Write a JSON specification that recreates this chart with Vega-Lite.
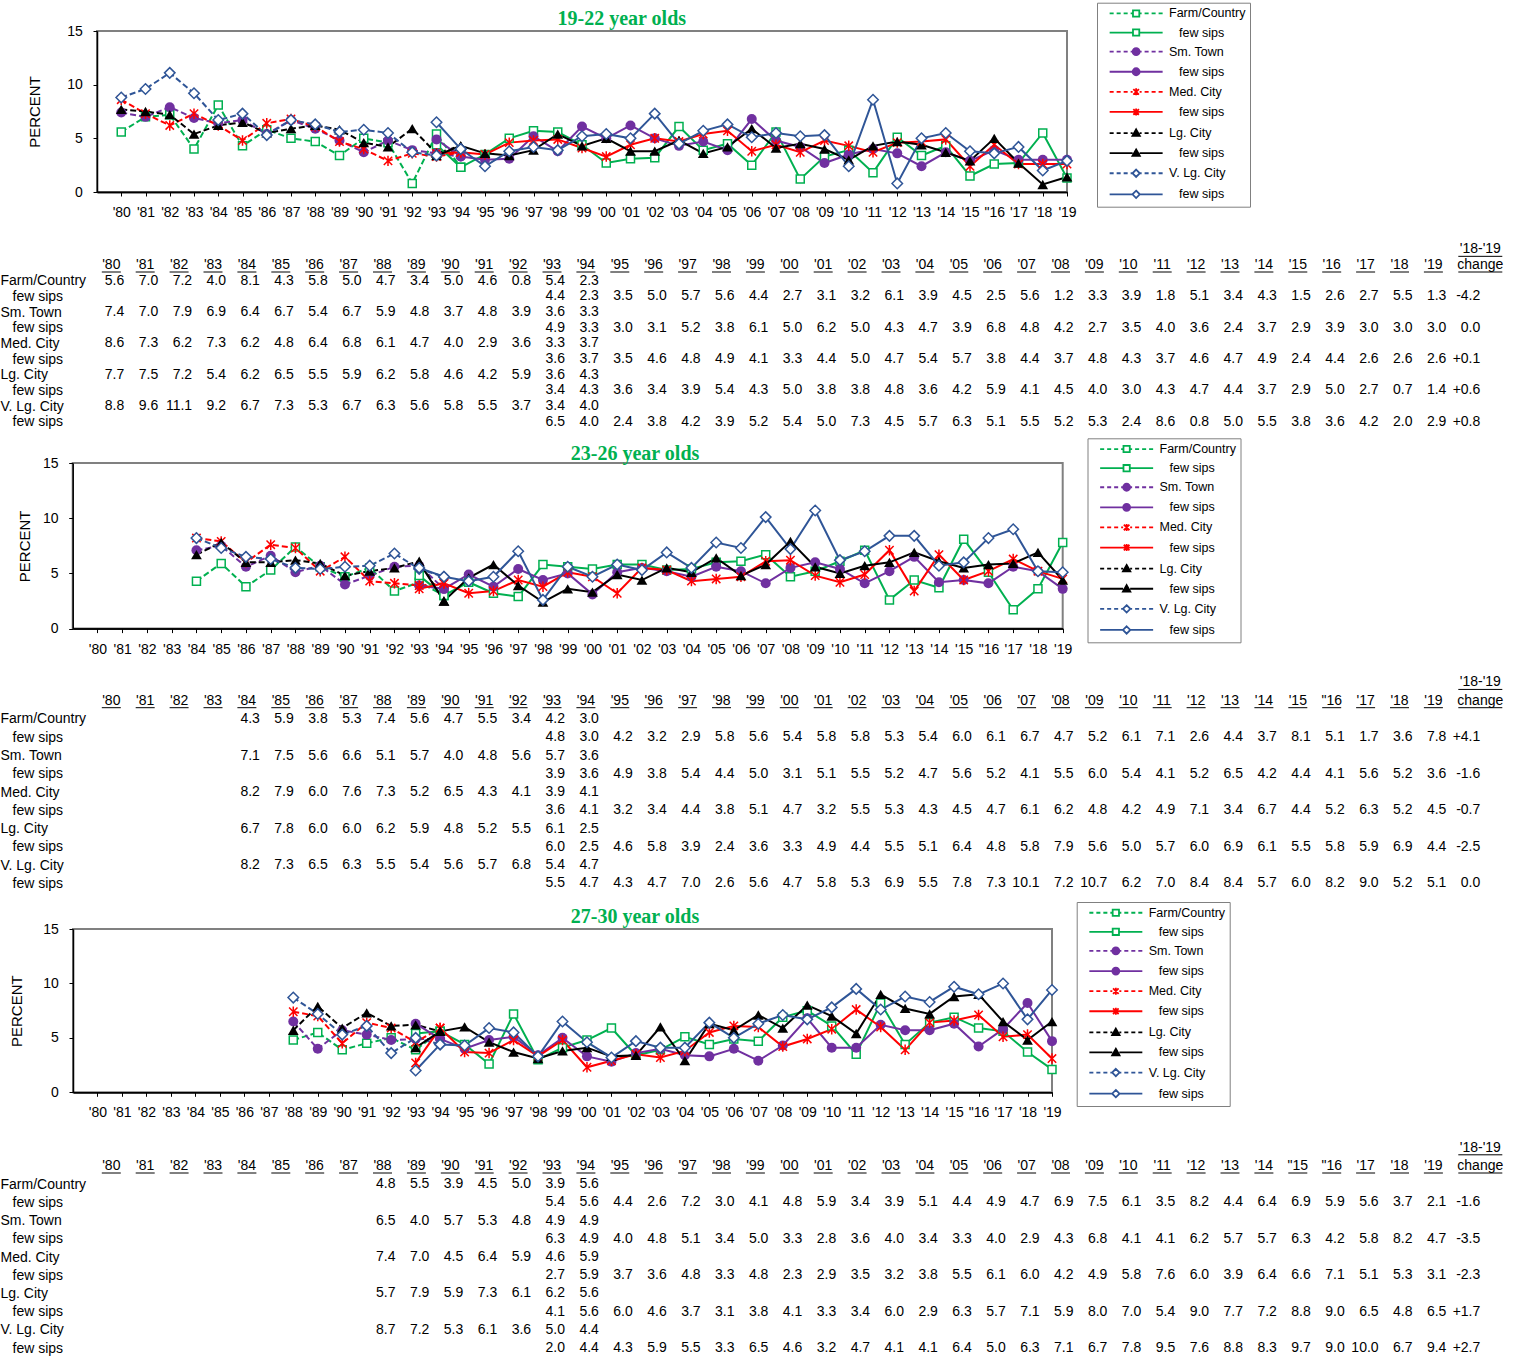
{
"$schema":"https://vega.github.io/schema/vega-lite/v6.json",
"padding":{"left":0,"top":2,"right":0,"bottom":0},
"background":"white",
"bounds":"flush",
"spacing":0,
"config":{"font":"Liberation Sans","view":{"stroke":null},
"axis":{"grid":false,"labelOverlap":false,"labelFont":"Liberation Sans","titleFont":"Liberation Sans","labelColor":"#000","titleColor":"#000","domainColor":"#000","tickColor":"#000"},
"text":{"font":"Liberation Sans","fontSize":14,"color":"#000"}},
"resolve":{"scale":{"color":"independent","stroke":"independent","fill":"independent","shape":"independent","x":"independent","y":"independent"},"legend":{"color":"independent","stroke":"independent","fill":"independent","shape":"independent"}},
"datasets":{
"ch":[{"r":"top","t":"'18-'19"},{"r":"hdr","t":"change"}],
"c1":[{"s":"F2","chg":"-4.2"},{"s":"S2","chg":"0.0"},{"s":"M2","chg":"+0.1"},{"s":"L2","chg":"+0.6"},{"s":"V2","chg":"+0.8"}],
"c2":[{"s":"F2","chg":"+4.1"},{"s":"S2","chg":"-1.6"},{"s":"M2","chg":"-0.7"},{"s":"L2","chg":"-2.5"},{"s":"V2","chg":"0.0"}],
"c3":[{"s":"F2","chg":"-1.6"},{"s":"S2","chg":"-3.5"},{"s":"M2","chg":"-2.3"},{"s":"L2","chg":"+1.7"},{"s":"V2","chg":"+2.7"}],
"h1":[{"yr":1980,"h":"'80"},{"yr":1981,"h":"'81"},{"yr":1982,"h":"'82"},{"yr":1983,"h":"'83"},{"yr":1984,"h":"'84"},{"yr":1985,"h":"'85"},{"yr":1986,"h":"'86"},{"yr":1987,"h":"'87"},{"yr":1988,"h":"'88"},{"yr":1989,"h":"'89"},{"yr":1990,"h":"'90"},{"yr":1991,"h":"'91"},{"yr":1992,"h":"'92"},{"yr":1993,"h":"'93"},{"yr":1994,"h":"'94"},{"yr":1995,"h":"'95"},{"yr":1996,"h":"'96"},{"yr":1997,"h":"'97"},{"yr":1998,"h":"'98"},{"yr":1999,"h":"'99"},{"yr":2000,"h":"'00"},{"yr":2001,"h":"'01"},{"yr":2002,"h":"'02"},{"yr":2003,"h":"'03"},{"yr":2004,"h":"'04"},{"yr":2005,"h":"'05"},{"yr":2006,"h":"'06"},{"yr":2007,"h":"'07"},{"yr":2008,"h":"'08"},{"yr":2009,"h":"'09"},{"yr":2010,"h":"'10"},{"yr":2011,"h":"'11"},{"yr":2012,"h":"'12"},{"yr":2013,"h":"'13"},{"yr":2014,"h":"'14"},{"yr":2015,"h":"'15"},{"yr":2016,"h":"'16"},{"yr":2017,"h":"'17"},{"yr":2018,"h":"'18"},{"yr":2019,"h":"'19"}],
"h2":[{"yr":1980,"h":"'80"},{"yr":1981,"h":"'81"},{"yr":1982,"h":"'82"},{"yr":1983,"h":"'83"},{"yr":1984,"h":"'84"},{"yr":1985,"h":"'85"},{"yr":1986,"h":"'86"},{"yr":1987,"h":"'87"},{"yr":1988,"h":"'88"},{"yr":1989,"h":"'89"},{"yr":1990,"h":"'90"},{"yr":1991,"h":"'91"},{"yr":1992,"h":"'92"},{"yr":1993,"h":"'93"},{"yr":1994,"h":"'94"},{"yr":1995,"h":"'95"},{"yr":1996,"h":"'96"},{"yr":1997,"h":"'97"},{"yr":1998,"h":"'98"},{"yr":1999,"h":"'99"},{"yr":2000,"h":"'00"},{"yr":2001,"h":"'01"},{"yr":2002,"h":"'02"},{"yr":2003,"h":"'03"},{"yr":2004,"h":"'04"},{"yr":2005,"h":"'05"},{"yr":2006,"h":"'06"},{"yr":2007,"h":"'07"},{"yr":2008,"h":"'08"},{"yr":2009,"h":"'09"},{"yr":2010,"h":"'10"},{"yr":2011,"h":"'11"},{"yr":2012,"h":"'12"},{"yr":2013,"h":"'13"},{"yr":2014,"h":"'14"},{"yr":2015,"h":"'15"},{"yr":2016,"h":"\"16"},{"yr":2017,"h":"'17"},{"yr":2018,"h":"'18"},{"yr":2019,"h":"'19"}],
"h3":[{"yr":1980,"h":"'80"},{"yr":1981,"h":"'81"},{"yr":1982,"h":"'82"},{"yr":1983,"h":"'83"},{"yr":1984,"h":"'84"},{"yr":1985,"h":"'85"},{"yr":1986,"h":"'86"},{"yr":1987,"h":"'87"},{"yr":1988,"h":"'88"},{"yr":1989,"h":"'89"},{"yr":1990,"h":"'90"},{"yr":1991,"h":"'91"},{"yr":1992,"h":"'92"},{"yr":1993,"h":"'93"},{"yr":1994,"h":"'94"},{"yr":1995,"h":"'95"},{"yr":1996,"h":"'96"},{"yr":1997,"h":"'97"},{"yr":1998,"h":"'98"},{"yr":1999,"h":"'99"},{"yr":2000,"h":"'00"},{"yr":2001,"h":"'01"},{"yr":2002,"h":"'02"},{"yr":2003,"h":"'03"},{"yr":2004,"h":"'04"},{"yr":2005,"h":"'05"},{"yr":2006,"h":"'06"},{"yr":2007,"h":"'07"},{"yr":2008,"h":"'08"},{"yr":2009,"h":"'09"},{"yr":2010,"h":"'10"},{"yr":2011,"h":"'11"},{"yr":2012,"h":"'12"},{"yr":2013,"h":"'13"},{"yr":2014,"h":"'14"},{"yr":2015,"h":"\"15"},{"yr":2016,"h":"\"16"},{"yr":2017,"h":"'17"},{"yr":2018,"h":"'18"},{"yr":2019,"h":"'19"}],
"d1":[
{"s":"F1","yr":1980,"v":5.6},{"s":"F1","yr":1981,"v":7.0},{"s":"F1","yr":1982,"v":7.2},{"s":"F1","yr":1983,"v":4.0},{"s":"F1","yr":1984,"v":8.1},{"s":"F1","yr":1985,"v":4.3},{"s":"F1","yr":1986,"v":5.8},{"s":"F1","yr":1987,"v":5.0},{"s":"F1","yr":1988,"v":4.7},{"s":"F1","yr":1989,"v":3.4},{"s":"F1","yr":1990,"v":5.0},{"s":"F1","yr":1991,"v":4.6},{"s":"F1","yr":1992,"v":0.8},{"s":"F1","yr":1993,"v":5.4},{"s":"F1","yr":1994,"v":2.3},
{"s":"F2","yr":1993,"v":4.4},{"s":"F2","yr":1994,"v":2.3},{"s":"F2","yr":1995,"v":3.5},{"s":"F2","yr":1996,"v":5.0},{"s":"F2","yr":1997,"v":5.7},{"s":"F2","yr":1998,"v":5.6},{"s":"F2","yr":1999,"v":4.4},{"s":"F2","yr":2000,"v":2.7},{"s":"F2","yr":2001,"v":3.1},{"s":"F2","yr":2002,"v":3.2},{"s":"F2","yr":2003,"v":6.1},{"s":"F2","yr":2004,"v":3.9},{"s":"F2","yr":2005,"v":4.5},{"s":"F2","yr":2006,"v":2.5},{"s":"F2","yr":2007,"v":5.6},{"s":"F2","yr":2008,"v":1.2},{"s":"F2","yr":2009,"v":3.3},{"s":"F2","yr":2010,"v":3.9},{"s":"F2","yr":2011,"v":1.8},{"s":"F2","yr":2012,"v":5.1},{"s":"F2","yr":2013,"v":3.4},{"s":"F2","yr":2014,"v":4.3},{"s":"F2","yr":2015,"v":1.5},{"s":"F2","yr":2016,"v":2.6},{"s":"F2","yr":2017,"v":2.7},{"s":"F2","yr":2018,"v":5.5},{"s":"F2","yr":2019,"v":1.3},
{"s":"S1","yr":1980,"v":7.4},{"s":"S1","yr":1981,"v":7.0},{"s":"S1","yr":1982,"v":7.9},{"s":"S1","yr":1983,"v":6.9},{"s":"S1","yr":1984,"v":6.4},{"s":"S1","yr":1985,"v":6.7},{"s":"S1","yr":1986,"v":5.4},{"s":"S1","yr":1987,"v":6.7},{"s":"S1","yr":1988,"v":5.9},{"s":"S1","yr":1989,"v":4.8},{"s":"S1","yr":1990,"v":3.7},{"s":"S1","yr":1991,"v":4.8},{"s":"S1","yr":1992,"v":3.9},{"s":"S1","yr":1993,"v":3.6},{"s":"S1","yr":1994,"v":3.3},
{"s":"S2","yr":1993,"v":4.9},{"s":"S2","yr":1994,"v":3.3},{"s":"S2","yr":1995,"v":3.0},{"s":"S2","yr":1996,"v":3.1},{"s":"S2","yr":1997,"v":5.2},{"s":"S2","yr":1998,"v":3.8},{"s":"S2","yr":1999,"v":6.1},{"s":"S2","yr":2000,"v":5.0},{"s":"S2","yr":2001,"v":6.2},{"s":"S2","yr":2002,"v":5.0},{"s":"S2","yr":2003,"v":4.3},{"s":"S2","yr":2004,"v":4.7},{"s":"S2","yr":2005,"v":3.9},{"s":"S2","yr":2006,"v":6.8},{"s":"S2","yr":2007,"v":4.8},{"s":"S2","yr":2008,"v":4.2},{"s":"S2","yr":2009,"v":2.7},{"s":"S2","yr":2010,"v":3.5},{"s":"S2","yr":2011,"v":4.0},{"s":"S2","yr":2012,"v":3.6},{"s":"S2","yr":2013,"v":2.4},{"s":"S2","yr":2014,"v":3.7},{"s":"S2","yr":2015,"v":2.9},{"s":"S2","yr":2016,"v":3.9},{"s":"S2","yr":2017,"v":3.0},{"s":"S2","yr":2018,"v":3.0},{"s":"S2","yr":2019,"v":3.0},
{"s":"M1","yr":1980,"v":8.6},{"s":"M1","yr":1981,"v":7.3},{"s":"M1","yr":1982,"v":6.2},{"s":"M1","yr":1983,"v":7.3},{"s":"M1","yr":1984,"v":6.2},{"s":"M1","yr":1985,"v":4.8},{"s":"M1","yr":1986,"v":6.4},{"s":"M1","yr":1987,"v":6.8},{"s":"M1","yr":1988,"v":6.1},{"s":"M1","yr":1989,"v":4.7},{"s":"M1","yr":1990,"v":4.0},{"s":"M1","yr":1991,"v":2.9},{"s":"M1","yr":1992,"v":3.6},{"s":"M1","yr":1993,"v":3.3},{"s":"M1","yr":1994,"v":3.7},
{"s":"M2","yr":1993,"v":3.6},{"s":"M2","yr":1994,"v":3.7},{"s":"M2","yr":1995,"v":3.5},{"s":"M2","yr":1996,"v":4.6},{"s":"M2","yr":1997,"v":4.8},{"s":"M2","yr":1998,"v":4.9},{"s":"M2","yr":1999,"v":4.1},{"s":"M2","yr":2000,"v":3.3},{"s":"M2","yr":2001,"v":4.4},{"s":"M2","yr":2002,"v":5.0},{"s":"M2","yr":2003,"v":4.7},{"s":"M2","yr":2004,"v":5.4},{"s":"M2","yr":2005,"v":5.7},{"s":"M2","yr":2006,"v":3.8},{"s":"M2","yr":2007,"v":4.4},{"s":"M2","yr":2008,"v":3.7},{"s":"M2","yr":2009,"v":4.8},{"s":"M2","yr":2010,"v":4.3},{"s":"M2","yr":2011,"v":3.7},{"s":"M2","yr":2012,"v":4.6},{"s":"M2","yr":2013,"v":4.7},{"s":"M2","yr":2014,"v":4.9},{"s":"M2","yr":2015,"v":2.4},{"s":"M2","yr":2016,"v":4.4},{"s":"M2","yr":2017,"v":2.6},{"s":"M2","yr":2018,"v":2.6},{"s":"M2","yr":2019,"v":2.6},
{"s":"L1","yr":1980,"v":7.7},{"s":"L1","yr":1981,"v":7.5},{"s":"L1","yr":1982,"v":7.2},{"s":"L1","yr":1983,"v":5.4},{"s":"L1","yr":1984,"v":6.2},{"s":"L1","yr":1985,"v":6.5},{"s":"L1","yr":1986,"v":5.5},{"s":"L1","yr":1987,"v":5.9},{"s":"L1","yr":1988,"v":6.2},{"s":"L1","yr":1989,"v":5.8},{"s":"L1","yr":1990,"v":4.6},{"s":"L1","yr":1991,"v":4.2},{"s":"L1","yr":1992,"v":5.9},{"s":"L1","yr":1993,"v":3.6},{"s":"L1","yr":1994,"v":4.3},
{"s":"L2","yr":1993,"v":3.4},{"s":"L2","yr":1994,"v":4.3},{"s":"L2","yr":1995,"v":3.6},{"s":"L2","yr":1996,"v":3.4},{"s":"L2","yr":1997,"v":3.9},{"s":"L2","yr":1998,"v":5.4},{"s":"L2","yr":1999,"v":4.3},{"s":"L2","yr":2000,"v":5.0},{"s":"L2","yr":2001,"v":3.8},{"s":"L2","yr":2002,"v":3.8},{"s":"L2","yr":2003,"v":4.8},{"s":"L2","yr":2004,"v":3.6},{"s":"L2","yr":2005,"v":4.2},{"s":"L2","yr":2006,"v":5.9},{"s":"L2","yr":2007,"v":4.1},{"s":"L2","yr":2008,"v":4.5},{"s":"L2","yr":2009,"v":4.0},{"s":"L2","yr":2010,"v":3.0},{"s":"L2","yr":2011,"v":4.3},{"s":"L2","yr":2012,"v":4.7},{"s":"L2","yr":2013,"v":4.4},{"s":"L2","yr":2014,"v":3.7},{"s":"L2","yr":2015,"v":2.9},{"s":"L2","yr":2016,"v":5.0},{"s":"L2","yr":2017,"v":2.7},{"s":"L2","yr":2018,"v":0.7},{"s":"L2","yr":2019,"v":1.4},
{"s":"V1","yr":1980,"v":8.8},{"s":"V1","yr":1981,"v":9.6},{"s":"V1","yr":1982,"v":11.1},{"s":"V1","yr":1983,"v":9.2},{"s":"V1","yr":1984,"v":6.7},{"s":"V1","yr":1985,"v":7.3},{"s":"V1","yr":1986,"v":5.3},{"s":"V1","yr":1987,"v":6.7},{"s":"V1","yr":1988,"v":6.3},{"s":"V1","yr":1989,"v":5.6},{"s":"V1","yr":1990,"v":5.8},{"s":"V1","yr":1991,"v":5.5},{"s":"V1","yr":1992,"v":3.7},{"s":"V1","yr":1993,"v":3.4},{"s":"V1","yr":1994,"v":4.0},
{"s":"V2","yr":1993,"v":6.5},{"s":"V2","yr":1994,"v":4.0},{"s":"V2","yr":1995,"v":2.4},{"s":"V2","yr":1996,"v":3.8},{"s":"V2","yr":1997,"v":4.2},{"s":"V2","yr":1998,"v":3.9},{"s":"V2","yr":1999,"v":5.2},{"s":"V2","yr":2000,"v":5.4},{"s":"V2","yr":2001,"v":5.0},{"s":"V2","yr":2002,"v":7.3},{"s":"V2","yr":2003,"v":4.5},{"s":"V2","yr":2004,"v":5.7},{"s":"V2","yr":2005,"v":6.3},{"s":"V2","yr":2006,"v":5.1},{"s":"V2","yr":2007,"v":5.5},{"s":"V2","yr":2008,"v":5.2},{"s":"V2","yr":2009,"v":5.3},{"s":"V2","yr":2010,"v":2.4},{"s":"V2","yr":2011,"v":8.6},{"s":"V2","yr":2012,"v":0.8},{"s":"V2","yr":2013,"v":5.0},{"s":"V2","yr":2014,"v":5.5},{"s":"V2","yr":2015,"v":3.8},{"s":"V2","yr":2016,"v":3.6},{"s":"V2","yr":2017,"v":4.2},{"s":"V2","yr":2018,"v":2.0},{"s":"V2","yr":2019,"v":2.9}],
"d2":[
{"s":"F1","yr":1984,"v":4.3},{"s":"F1","yr":1985,"v":5.9},{"s":"F1","yr":1986,"v":3.8},{"s":"F1","yr":1987,"v":5.3},{"s":"F1","yr":1988,"v":7.4},{"s":"F1","yr":1989,"v":5.6},{"s":"F1","yr":1990,"v":4.7},{"s":"F1","yr":1991,"v":5.5},{"s":"F1","yr":1992,"v":3.4},{"s":"F1","yr":1993,"v":4.2},{"s":"F1","yr":1994,"v":3.0},
{"s":"F2","yr":1993,"v":4.8},{"s":"F2","yr":1994,"v":3.0},{"s":"F2","yr":1995,"v":4.2},{"s":"F2","yr":1996,"v":3.2},{"s":"F2","yr":1997,"v":2.9},{"s":"F2","yr":1998,"v":5.8},{"s":"F2","yr":1999,"v":5.6},{"s":"F2","yr":2000,"v":5.4},{"s":"F2","yr":2001,"v":5.8},{"s":"F2","yr":2002,"v":5.8},{"s":"F2","yr":2003,"v":5.3},{"s":"F2","yr":2004,"v":5.4},{"s":"F2","yr":2005,"v":6.0},{"s":"F2","yr":2006,"v":6.1},{"s":"F2","yr":2007,"v":6.7},{"s":"F2","yr":2008,"v":4.7},{"s":"F2","yr":2009,"v":5.2},{"s":"F2","yr":2010,"v":6.1},{"s":"F2","yr":2011,"v":7.1},{"s":"F2","yr":2012,"v":2.6},{"s":"F2","yr":2013,"v":4.4},{"s":"F2","yr":2014,"v":3.7},{"s":"F2","yr":2015,"v":8.1},{"s":"F2","yr":2016,"v":5.1},{"s":"F2","yr":2017,"v":1.7},{"s":"F2","yr":2018,"v":3.6},{"s":"F2","yr":2019,"v":7.8},
{"s":"S1","yr":1984,"v":7.1},{"s":"S1","yr":1985,"v":7.5},{"s":"S1","yr":1986,"v":5.6},{"s":"S1","yr":1987,"v":6.6},{"s":"S1","yr":1988,"v":5.1},{"s":"S1","yr":1989,"v":5.7},{"s":"S1","yr":1990,"v":4.0},{"s":"S1","yr":1991,"v":4.8},{"s":"S1","yr":1992,"v":5.6},{"s":"S1","yr":1993,"v":5.7},{"s":"S1","yr":1994,"v":3.6},
{"s":"S2","yr":1993,"v":3.9},{"s":"S2","yr":1994,"v":3.6},{"s":"S2","yr":1995,"v":4.9},{"s":"S2","yr":1996,"v":3.8},{"s":"S2","yr":1997,"v":5.4},{"s":"S2","yr":1998,"v":4.4},{"s":"S2","yr":1999,"v":5.0},{"s":"S2","yr":2000,"v":3.1},{"s":"S2","yr":2001,"v":5.1},{"s":"S2","yr":2002,"v":5.5},{"s":"S2","yr":2003,"v":5.2},{"s":"S2","yr":2004,"v":4.7},{"s":"S2","yr":2005,"v":5.6},{"s":"S2","yr":2006,"v":5.2},{"s":"S2","yr":2007,"v":4.1},{"s":"S2","yr":2008,"v":5.5},{"s":"S2","yr":2009,"v":6.0},{"s":"S2","yr":2010,"v":5.4},{"s":"S2","yr":2011,"v":4.1},{"s":"S2","yr":2012,"v":5.2},{"s":"S2","yr":2013,"v":6.5},{"s":"S2","yr":2014,"v":4.2},{"s":"S2","yr":2015,"v":4.4},{"s":"S2","yr":2016,"v":4.1},{"s":"S2","yr":2017,"v":5.6},{"s":"S2","yr":2018,"v":5.2},{"s":"S2","yr":2019,"v":3.6},
{"s":"M1","yr":1984,"v":8.2},{"s":"M1","yr":1985,"v":7.9},{"s":"M1","yr":1986,"v":6.0},{"s":"M1","yr":1987,"v":7.6},{"s":"M1","yr":1988,"v":7.3},{"s":"M1","yr":1989,"v":5.2},{"s":"M1","yr":1990,"v":6.5},{"s":"M1","yr":1991,"v":4.3},{"s":"M1","yr":1992,"v":4.1},{"s":"M1","yr":1993,"v":3.9},{"s":"M1","yr":1994,"v":4.1},
{"s":"M2","yr":1993,"v":3.6},{"s":"M2","yr":1994,"v":4.1},{"s":"M2","yr":1995,"v":3.2},{"s":"M2","yr":1996,"v":3.4},{"s":"M2","yr":1997,"v":4.4},{"s":"M2","yr":1998,"v":3.8},{"s":"M2","yr":1999,"v":5.1},{"s":"M2","yr":2000,"v":4.7},{"s":"M2","yr":2001,"v":3.2},{"s":"M2","yr":2002,"v":5.5},{"s":"M2","yr":2003,"v":5.3},{"s":"M2","yr":2004,"v":4.3},{"s":"M2","yr":2005,"v":4.5},{"s":"M2","yr":2006,"v":4.7},{"s":"M2","yr":2007,"v":6.1},{"s":"M2","yr":2008,"v":6.2},{"s":"M2","yr":2009,"v":4.8},{"s":"M2","yr":2010,"v":4.2},{"s":"M2","yr":2011,"v":4.9},{"s":"M2","yr":2012,"v":7.1},{"s":"M2","yr":2013,"v":3.4},{"s":"M2","yr":2014,"v":6.7},{"s":"M2","yr":2015,"v":4.4},{"s":"M2","yr":2016,"v":5.2},{"s":"M2","yr":2017,"v":6.3},{"s":"M2","yr":2018,"v":5.2},{"s":"M2","yr":2019,"v":4.5},
{"s":"L1","yr":1984,"v":6.7},{"s":"L1","yr":1985,"v":7.8},{"s":"L1","yr":1986,"v":6.0},{"s":"L1","yr":1987,"v":6.0},{"s":"L1","yr":1988,"v":6.2},{"s":"L1","yr":1989,"v":5.9},{"s":"L1","yr":1990,"v":4.8},{"s":"L1","yr":1991,"v":5.2},{"s":"L1","yr":1992,"v":5.5},{"s":"L1","yr":1993,"v":6.1},{"s":"L1","yr":1994,"v":2.5},
{"s":"L2","yr":1993,"v":6.0},{"s":"L2","yr":1994,"v":2.5},{"s":"L2","yr":1995,"v":4.6},{"s":"L2","yr":1996,"v":5.8},{"s":"L2","yr":1997,"v":3.9},{"s":"L2","yr":1998,"v":2.4},{"s":"L2","yr":1999,"v":3.6},{"s":"L2","yr":2000,"v":3.3},{"s":"L2","yr":2001,"v":4.9},{"s":"L2","yr":2002,"v":4.4},{"s":"L2","yr":2003,"v":5.5},{"s":"L2","yr":2004,"v":5.1},{"s":"L2","yr":2005,"v":6.4},{"s":"L2","yr":2006,"v":4.8},{"s":"L2","yr":2007,"v":5.8},{"s":"L2","yr":2008,"v":7.9},{"s":"L2","yr":2009,"v":5.6},{"s":"L2","yr":2010,"v":5.0},{"s":"L2","yr":2011,"v":5.7},{"s":"L2","yr":2012,"v":6.0},{"s":"L2","yr":2013,"v":6.9},{"s":"L2","yr":2014,"v":6.1},{"s":"L2","yr":2015,"v":5.5},{"s":"L2","yr":2016,"v":5.8},{"s":"L2","yr":2017,"v":5.9},{"s":"L2","yr":2018,"v":6.9},{"s":"L2","yr":2019,"v":4.4},
{"s":"V1","yr":1984,"v":8.2},{"s":"V1","yr":1985,"v":7.3},{"s":"V1","yr":1986,"v":6.5},{"s":"V1","yr":1987,"v":6.3},{"s":"V1","yr":1988,"v":5.5},{"s":"V1","yr":1989,"v":5.4},{"s":"V1","yr":1990,"v":5.6},{"s":"V1","yr":1991,"v":5.7},{"s":"V1","yr":1992,"v":6.8},{"s":"V1","yr":1993,"v":5.4},{"s":"V1","yr":1994,"v":4.7},
{"s":"V2","yr":1993,"v":5.5},{"s":"V2","yr":1994,"v":4.7},{"s":"V2","yr":1995,"v":4.3},{"s":"V2","yr":1996,"v":4.7},{"s":"V2","yr":1997,"v":7.0},{"s":"V2","yr":1998,"v":2.6},{"s":"V2","yr":1999,"v":5.6},{"s":"V2","yr":2000,"v":4.7},{"s":"V2","yr":2001,"v":5.8},{"s":"V2","yr":2002,"v":5.3},{"s":"V2","yr":2003,"v":6.9},{"s":"V2","yr":2004,"v":5.5},{"s":"V2","yr":2005,"v":7.8},{"s":"V2","yr":2006,"v":7.3},{"s":"V2","yr":2007,"v":10.1},{"s":"V2","yr":2008,"v":7.2},{"s":"V2","yr":2009,"v":10.7},{"s":"V2","yr":2010,"v":6.2},{"s":"V2","yr":2011,"v":7.0},{"s":"V2","yr":2012,"v":8.4},{"s":"V2","yr":2013,"v":8.4},{"s":"V2","yr":2014,"v":5.7},{"s":"V2","yr":2015,"v":6.0},{"s":"V2","yr":2016,"v":8.2},{"s":"V2","yr":2017,"v":9.0},{"s":"V2","yr":2018,"v":5.2},{"s":"V2","yr":2019,"v":5.1}],
"d3":[
{"s":"F1","yr":1988,"v":4.8},{"s":"F1","yr":1989,"v":5.5},{"s":"F1","yr":1990,"v":3.9},{"s":"F1","yr":1991,"v":4.5},{"s":"F1","yr":1992,"v":5.0},{"s":"F1","yr":1993,"v":3.9},{"s":"F1","yr":1994,"v":5.6},
{"s":"F2","yr":1993,"v":5.4},{"s":"F2","yr":1994,"v":5.6},{"s":"F2","yr":1995,"v":4.4},{"s":"F2","yr":1996,"v":2.6},{"s":"F2","yr":1997,"v":7.2},{"s":"F2","yr":1998,"v":3.0},{"s":"F2","yr":1999,"v":4.1},{"s":"F2","yr":2000,"v":4.8},{"s":"F2","yr":2001,"v":5.9},{"s":"F2","yr":2002,"v":3.4},{"s":"F2","yr":2003,"v":3.9},{"s":"F2","yr":2004,"v":5.1},{"s":"F2","yr":2005,"v":4.4},{"s":"F2","yr":2006,"v":4.9},{"s":"F2","yr":2007,"v":4.7},{"s":"F2","yr":2008,"v":6.9},{"s":"F2","yr":2009,"v":7.5},{"s":"F2","yr":2010,"v":6.1},{"s":"F2","yr":2011,"v":3.5},{"s":"F2","yr":2012,"v":8.2},{"s":"F2","yr":2013,"v":4.4},{"s":"F2","yr":2014,"v":6.4},{"s":"F2","yr":2015,"v":6.9},{"s":"F2","yr":2016,"v":5.9},{"s":"F2","yr":2017,"v":5.6},{"s":"F2","yr":2018,"v":3.7},{"s":"F2","yr":2019,"v":2.1},
{"s":"S1","yr":1988,"v":6.5},{"s":"S1","yr":1989,"v":4.0},{"s":"S1","yr":1990,"v":5.7},{"s":"S1","yr":1991,"v":5.3},{"s":"S1","yr":1992,"v":4.8},{"s":"S1","yr":1993,"v":4.9},{"s":"S1","yr":1994,"v":4.9},
{"s":"S2","yr":1993,"v":6.3},{"s":"S2","yr":1994,"v":4.9},{"s":"S2","yr":1995,"v":4.0},{"s":"S2","yr":1996,"v":4.8},{"s":"S2","yr":1997,"v":5.1},{"s":"S2","yr":1998,"v":3.4},{"s":"S2","yr":1999,"v":5.0},{"s":"S2","yr":2000,"v":3.3},{"s":"S2","yr":2001,"v":2.8},{"s":"S2","yr":2002,"v":3.6},{"s":"S2","yr":2003,"v":4.0},{"s":"S2","yr":2004,"v":3.4},{"s":"S2","yr":2005,"v":3.3},{"s":"S2","yr":2006,"v":4.0},{"s":"S2","yr":2007,"v":2.9},{"s":"S2","yr":2008,"v":4.3},{"s":"S2","yr":2009,"v":6.8},{"s":"S2","yr":2010,"v":4.1},{"s":"S2","yr":2011,"v":4.1},{"s":"S2","yr":2012,"v":6.2},{"s":"S2","yr":2013,"v":5.7},{"s":"S2","yr":2014,"v":5.7},{"s":"S2","yr":2015,"v":6.3},{"s":"S2","yr":2016,"v":4.2},{"s":"S2","yr":2017,"v":5.8},{"s":"S2","yr":2018,"v":8.2},{"s":"S2","yr":2019,"v":4.7},
{"s":"M1","yr":1988,"v":7.4},{"s":"M1","yr":1989,"v":7.0},{"s":"M1","yr":1990,"v":4.5},{"s":"M1","yr":1991,"v":6.4},{"s":"M1","yr":1992,"v":5.9},{"s":"M1","yr":1993,"v":4.6},{"s":"M1","yr":1994,"v":5.9},
{"s":"M2","yr":1993,"v":2.7},{"s":"M2","yr":1994,"v":5.9},{"s":"M2","yr":1995,"v":3.7},{"s":"M2","yr":1996,"v":3.6},{"s":"M2","yr":1997,"v":4.8},{"s":"M2","yr":1998,"v":3.3},{"s":"M2","yr":1999,"v":4.8},{"s":"M2","yr":2000,"v":2.3},{"s":"M2","yr":2001,"v":2.9},{"s":"M2","yr":2002,"v":3.5},{"s":"M2","yr":2003,"v":3.2},{"s":"M2","yr":2004,"v":3.8},{"s":"M2","yr":2005,"v":5.5},{"s":"M2","yr":2006,"v":6.1},{"s":"M2","yr":2007,"v":6.0},{"s":"M2","yr":2008,"v":4.2},{"s":"M2","yr":2009,"v":4.9},{"s":"M2","yr":2010,"v":5.8},{"s":"M2","yr":2011,"v":7.6},{"s":"M2","yr":2012,"v":6.0},{"s":"M2","yr":2013,"v":3.9},{"s":"M2","yr":2014,"v":6.4},{"s":"M2","yr":2015,"v":6.6},{"s":"M2","yr":2016,"v":7.1},{"s":"M2","yr":2017,"v":5.1},{"s":"M2","yr":2018,"v":5.3},{"s":"M2","yr":2019,"v":3.1},
{"s":"L1","yr":1988,"v":5.7},{"s":"L1","yr":1989,"v":7.9},{"s":"L1","yr":1990,"v":5.9},{"s":"L1","yr":1991,"v":7.3},{"s":"L1","yr":1992,"v":6.1},{"s":"L1","yr":1993,"v":6.2},{"s":"L1","yr":1994,"v":5.6},
{"s":"L2","yr":1993,"v":4.1},{"s":"L2","yr":1994,"v":5.6},{"s":"L2","yr":1995,"v":6.0},{"s":"L2","yr":1996,"v":4.6},{"s":"L2","yr":1997,"v":3.7},{"s":"L2","yr":1998,"v":3.1},{"s":"L2","yr":1999,"v":3.8},{"s":"L2","yr":2000,"v":4.1},{"s":"L2","yr":2001,"v":3.3},{"s":"L2","yr":2002,"v":3.4},{"s":"L2","yr":2003,"v":6.0},{"s":"L2","yr":2004,"v":2.9},{"s":"L2","yr":2005,"v":6.3},{"s":"L2","yr":2006,"v":5.7},{"s":"L2","yr":2007,"v":7.1},{"s":"L2","yr":2008,"v":5.9},{"s":"L2","yr":2009,"v":8.0},{"s":"L2","yr":2010,"v":7.0},{"s":"L2","yr":2011,"v":5.4},{"s":"L2","yr":2012,"v":9.0},{"s":"L2","yr":2013,"v":7.7},{"s":"L2","yr":2014,"v":7.2},{"s":"L2","yr":2015,"v":8.8},{"s":"L2","yr":2016,"v":9.0},{"s":"L2","yr":2017,"v":6.5},{"s":"L2","yr":2018,"v":4.8},{"s":"L2","yr":2019,"v":6.5},
{"s":"V1","yr":1988,"v":8.7},{"s":"V1","yr":1989,"v":7.2},{"s":"V1","yr":1990,"v":5.3},{"s":"V1","yr":1991,"v":6.1},{"s":"V1","yr":1992,"v":3.6},{"s":"V1","yr":1993,"v":5.0},{"s":"V1","yr":1994,"v":4.4},
{"s":"V2","yr":1993,"v":2.0},{"s":"V2","yr":1994,"v":4.4},{"s":"V2","yr":1995,"v":4.3},{"s":"V2","yr":1996,"v":5.9},{"s":"V2","yr":1997,"v":5.5},{"s":"V2","yr":1998,"v":3.3},{"s":"V2","yr":1999,"v":6.5},{"s":"V2","yr":2000,"v":4.6},{"s":"V2","yr":2001,"v":3.2},{"s":"V2","yr":2002,"v":4.7},{"s":"V2","yr":2003,"v":4.1},{"s":"V2","yr":2004,"v":4.1},{"s":"V2","yr":2005,"v":6.4},{"s":"V2","yr":2006,"v":5.0},{"s":"V2","yr":2007,"v":6.3},{"s":"V2","yr":2008,"v":7.1},{"s":"V2","yr":2009,"v":6.7},{"s":"V2","yr":2010,"v":7.8},{"s":"V2","yr":2011,"v":9.5},{"s":"V2","yr":2012,"v":7.6},{"s":"V2","yr":2013,"v":8.8},{"s":"V2","yr":2014,"v":8.3},{"s":"V2","yr":2015,"v":9.7},{"s":"V2","yr":2016,"v":9.0},{"s":"V2","yr":2017,"v":10.0},{"s":"V2","yr":2018,"v":6.7},{"s":"V2","yr":2019,"v":9.4}]
},
"vconcat":[
{"width":1067,"height":161,
"title":{"text":"19-22 year olds","font":"Liberation Serif","fontSize":20,"fontWeight":"bold","color":"#00B050","frame":"group","anchor":"middle","baseline":"alphabetic","offset":0,"dx":88.3,"dy":42.8},
"resolve":{"axis":{"x":"independent"}},
"layer":[
{"data":{"values":[{}]},"mark":{"type":"rect","filled":false,"color":"#808080","strokeWidth":2},
"encoding":{"x":{"datum":1979,"type":"quantitative","scale":{"domain":[1979,2019],"range":[97,1067],"nice":false,"zero":false},
"axis":{"orient":"bottom","values":[1980,1982,1984,1986,1988,1990,1992,1994,1996,1998,2000,2002,2004,2006,2008,2010,2012,2014,2016,2018],"labelExpr":"datum.value == 2016 ? '\"16' : \"'\" + format(datum.value % 100, '02d')","title":null,"labelFontSize":14,"labelPadding":9.5,"tickSize":4,"domainWidth":1.5,"labelOverlap":false,"labelBound":false,"labelFlush":false,"zindex":1}},
"x2":{"datum":2019},
"y":{"datum":0,"type":"quantitative","scale":{"domain":[0,15],"nice":false},
"axis":{"orient":"left","offset":-97,"values":[0,5,10,15],"title":"PERCENT","titleFontSize":15,"titleFontWeight":"normal","titlePadding":24,"labelFontSize":14,"labelPadding":10.7,"tickSize":4,"domainWidth":1.5,"zindex":1}},
"y2":{"datum":15}}},
{"data":{"name":"d1"},"transform":[{"filter":{"field":"s","oneOf":["F1","S1","M1","L1","V1"]}}],"mark":{"type":"line","strokeWidth":2,"strokeDash":[6,3]},
"encoding":{"x":{"field":"yr","type":"quantitative","axis":{"orient":"bottom","values":[1981,1983,1985,1987,1989,1991,1993,1995,1997,1999,2001,2003,2005,2007,2009,2011,2013,2015,2017,2019],"labelExpr":"\"'\" + format(datum.value % 100, '02d')","title":null,"labelFontSize":14,"labelPadding":9.5,"tickSize":4,"domainWidth":1.5,"labelOverlap":false,"labelBound":false,"labelFlush":false,"zindex":1}},"y":{"field":"v","type":"quantitative"},
"color":{"field":"s","type":"nominal","scale":{"range":["#00B050","#00B050","#000000","#000000","#FF0000","#FF0000","#7030A0","#7030A0","#2F5597","#2F5597"]},"legend":null}}},
{"data":{"name":"d1"},"transform":[{"filter":{"field":"s","oneOf":["F2","S2","M2","L2","V2"]}}],"mark":{"type":"line","strokeWidth":2},
"encoding":{"x":{"field":"yr","type":"quantitative","axis":null},"y":{"field":"v","type":"quantitative"},"color":{"field":"s","type":"nominal","legend":null}}},
{"data":{"name":"d1"},"transform":[{"filter":{"field":"s","oneOf":["F1","F2"]}}],"mark":{"type":"point","shape":"square","size":64,"filled":false,"fill":"white","opacity":1,"strokeWidth":1.5},
"encoding":{"x":{"field":"yr","type":"quantitative","axis":null},"y":{"field":"v","type":"quantitative"},"color":{"field":"s","type":"nominal","legend":null}}},
{"data":{"name":"d1"},"transform":[{"filter":{"field":"s","oneOf":["S1","S2"]}}],"mark":{"type":"point","shape":"circle","size":100,"filled":true,"opacity":1},
"encoding":{"x":{"field":"yr","type":"quantitative","axis":null},"y":{"field":"v","type":"quantitative"},"color":{"field":"s","type":"nominal","legend":null}}},
{"data":{"name":"d1"},"transform":[{"filter":{"field":"s","oneOf":["M1","M2"]}}],"mark":{"type":"point","shape":"M-0.8,-0.8L0.8,0.8M-0.8,0.8L0.8,-0.8M0,-1V1","size":110,"filled":false,"opacity":1,"strokeWidth":1.5},
"encoding":{"x":{"field":"yr","type":"quantitative","axis":null},"y":{"field":"v","type":"quantitative"},"color":{"field":"s","type":"nominal","legend":null}}},
{"data":{"name":"d1"},"transform":[{"filter":{"field":"s","oneOf":["L1","L2"]}}],"mark":{"type":"point","shape":"triangle-up","size":115,"filled":true,"opacity":1},
"encoding":{"x":{"field":"yr","type":"quantitative","axis":null},"y":{"field":"v","type":"quantitative"},"color":{"field":"s","type":"nominal","legend":null}}},
{"data":{"name":"d1"},"transform":[{"filter":{"field":"s","oneOf":["V1","V2"]}}],"mark":{"type":"point","shape":"diamond","size":110,"filled":false,"fill":"white","opacity":1,"strokeWidth":1.5},
"encoding":{"x":{"field":"yr","type":"quantitative","axis":null},"y":{"field":"v","type":"quantitative"},"color":{"field":"s","type":"nominal","legend":null}}},
{"data":{"name":"d1"},"transform":[{"filter":"false"}],"mark":{"type":"point","opacity":1,"filled":false},
"encoding":{"x":{"field":"yr","type":"quantitative","axis":null},"y":{"field":"v","type":"quantitative"},
"stroke":{"field":"s","type":"nominal","scale":{"domain":["F1","F2","S1","S2","M1","M2","L1","L2","V1","V2"],"range":["#00B050","#00B050","#7030A0","#7030A0","#FF0000","#FF0000","#000000","#000000","#2F5597","#2F5597"]},
"legend":{"title":null,"orient":"none","legendX":1097,"legendY":-28.3,"strokeColor":"#808080","fillColor":"white","padding":4.5,"labelFontSize":12.5,"labelColor":"#000","labelFont":"Liberation Sans","symbolSize":49,"symbolStrokeWidth":1.8,"symbolOpacity":1,"labelOffset":55,"rowPadding":5.1,"labelLimit":300,"labelExpr":"datum.label == 'F1' ? 'Farm/Country' : datum.label == 'S1' ? 'Sm. Town' : datum.label == 'M1' ? 'Med. City' : datum.label == 'L1' ? 'Lg. City' : datum.label == 'V1' ? 'V. Lg. City' : 'few sips'","encoding":{"labels":{"dx":{"condition":{"test":"indexof(['F2','S2','M2','L2','V2'], datum.value) >= 0","value":10},"value":0}}}}},
"fill":{"field":"s","type":"nominal","scale":{"domain":["F1","F2","S1","S2","M1","M2","L1","L2","V1","V2"],"range":["#FFFFFF","#FFFFFF","#7030A0","#7030A0","transparent","transparent","#000000","#000000","#FFFFFF","#FFFFFF"]}},
"shape":{"field":"s","type":"nominal","scale":{"domain":["F1","F2","S1","S2","M1","M2","L1","L2","V1","V2"],"range":[
"M0.54,0H1.69M2.54,0H3.69M4.54,0H5.69M6.54,0H7.11M9.11,0H9.68M10.53,0H11.68M12.53,0H13.68M14.53,0H15.68M7.21,-0.9H9.01V0.9H7.21Z",
"M0.54,0H7.21M9.01,0H15.68M7.21,-0.9H9.01V0.9H7.21Z",
"M0.54,0H1.69M2.54,0H3.69M4.54,0H5.69M6.54,0H7.11M9.11,0H9.68M10.53,0H11.68M12.53,0H13.68M14.53,0H15.68M9.11,0A1,1,0,1,1,7.11,0A1,1,0,1,1,9.11,0Z",
"M0.54,0H7.11M9.11,0H15.68M9.11,0A1,1,0,1,1,7.11,0A1,1,0,1,1,9.11,0Z",
"M0.54,0H1.69M2.54,0H3.69M4.54,0H5.69M6.54,0H7.11M9.11,0H9.68M10.53,0H11.68M12.53,0H13.68M14.53,0H15.68M7.31,-0.8L8.91,0.8M7.31,0.8L8.91,-0.8M8.11,-1V1",
"M0.54,0H15.68M7.31,-0.8L8.91,0.8M7.31,0.8L8.91,-0.8M8.11,-1V1",
"M0.54,0H1.69M2.54,0H3.69M4.54,0H5.69M6.54,0H7.11M9.11,0H9.68M10.53,0H11.68M12.53,0H13.68M14.53,0H15.68M8.11,-1.05L9.16,0.8H7.06Z",
"M0.54,0H7.11M9.11,0H15.68M8.11,-1.05L9.16,0.8H7.06Z",
"M0.54,0H1.69M2.54,0H3.69M4.54,0H5.69M6.54,0H7.11M9.11,0H9.68M10.53,0H11.68M12.53,0H13.68M14.53,0H15.68M8.11,-1.05L9.16,0L8.11,1.05L7.06,0Z",
"M0.54,0H7.11M9.11,0H15.68M8.11,-1.05L9.16,0L8.11,1.05L7.06,0Z"]}}}}
]},
{"width":1518,"height":270.7,
"layer":[
{"data":{"name":"d1"},"mark":{"type":"text","align":"right","dx":13,"baseline":"middle","fontSize":14},
"encoding":{"x":{"field":"yr","type":"quantitative","scale":{"domain":[1980,2019],"range":[111.3,1433.4],"nice":false,"zero":false},"axis":null},
"y":{"field":"s","type":"nominal","scale":{"type":"point","domain":["top","hdr","F1","F2","S1","S2","M1","M2","L1","L2","V1","V2"],"range":[57.33,229.7],"padding":0},
"axis":{"orient":"left","domain":false,"ticks":false,"tickSize":0,"labelPadding":{"condition":{"test":"indexof(['F2','S2','M2','L2','V2'], datum.value) >= 0","value":-12},"value":0},"labelAlign":"left","labelBaseline":"middle","labelFontSize":14,"labelColor":"#000","labelOverlap":false,"labelBound":false,"title":null,"labelExpr":"datum.value == 'F1' ? 'Farm/Country' : datum.value == 'S1' ? 'Sm. Town' : datum.value == 'M1' ? 'Med. City' : datum.value == 'L1' ? 'Lg. City' : datum.value == 'V1' ? 'V. Lg. City' : (datum.value == 'top' || datum.value == 'hdr') ? '' : 'few sips'"}},
"text":{"field":"v","type":"quantitative","format":".1f"}}},
{"data":{"name":"c1"},"mark":{"type":"text","align":"right","dx":13,"baseline":"middle","fontSize":14},
"encoding":{"x":{"datum":2020,"type":"quantitative","axis":null},"y":{"field":"s","type":"nominal"},"text":{"field":"chg","type":"nominal"}}},
{"data":{"name":"h1"},"mark":{"type":"text","align":"center","baseline":"middle","fontSize":14},
"encoding":{"x":{"field":"yr","type":"quantitative","axis":null},"y":{"datum":"hdr","type":"nominal"},"text":{"field":"h","type":"nominal"}}},
{"data":{"name":"h1"},"mark":{"type":"rule","xOffset":-9.5,"x2Offset":9.5,"yOffset":7,"strokeWidth":1,"color":"#000"},
"encoding":{"x":{"field":"yr","type":"quantitative","axis":null},"x2":{"field":"yr"},"y":{"datum":"hdr","type":"nominal"}}},
{"data":{"name":"ch"},"mark":{"type":"text","align":"center","dx":13,"baseline":"middle","fontSize":14},
"encoding":{"x":{"datum":2020,"type":"quantitative","axis":null},"y":{"field":"r","type":"nominal"},"text":{"field":"t","type":"nominal"}}},
{"data":{"name":"ch"},"mark":{"type":"rule","xOffset":-9,"x2Offset":35,"yOffset":7,"strokeWidth":1,"color":"#000"},
"encoding":{"x":{"datum":2020,"type":"quantitative","axis":null},"x2":{"datum":2020},"y":{"field":"r","type":"nominal"}}}
]},
{"width":1062.7,"height":165.6,
"title":{"text":"23-26 year olds","font":"Liberation Serif","fontSize":20,"fontWeight":"bold","color":"#00B050","frame":"group","anchor":"middle","baseline":"alphabetic","offset":0,"dx":103.7,"dy":41.8},
"resolve":{"axis":{"x":"independent"}},
"layer":[
{"data":{"values":[{}]},"mark":{"type":"rect","filled":false,"color":"#808080","strokeWidth":2},
"encoding":{"x":{"datum":1979,"type":"quantitative","scale":{"domain":[1979,2019],"range":[72.7,1062.7],"nice":false,"zero":false},
"axis":{"orient":"bottom","values":[1980,1982,1984,1986,1988,1990,1992,1994,1996,1998,2000,2002,2004,2006,2008,2010,2012,2014,2016,2018],"labelExpr":"datum.value == 2016 ? '\"16' : \"'\" + format(datum.value % 100, '02d')","title":null,"labelFontSize":14,"labelPadding":9.5,"tickSize":4,"domainWidth":1.5,"labelOverlap":false,"labelBound":false,"labelFlush":false,"zindex":1}},
"x2":{"datum":2019},
"y":{"datum":0,"type":"quantitative","scale":{"domain":[0,15],"nice":false},
"axis":{"orient":"left","offset":-72.7,"values":[0,5,10,15],"title":"PERCENT","titleFontSize":15,"titleFontWeight":"normal","titlePadding":10.4,"labelFontSize":14,"labelPadding":10.7,"tickSize":4,"domainWidth":1.5,"zindex":1}},
"y2":{"datum":15}}},
{"data":{"name":"d2"},"transform":[{"filter":{"field":"s","oneOf":["F1","S1","M1","L1","V1"]}}],"mark":{"type":"line","strokeWidth":2,"strokeDash":[6,3]},
"encoding":{"x":{"field":"yr","type":"quantitative","axis":{"orient":"bottom","values":[1981,1983,1985,1987,1989,1991,1993,1995,1997,1999,2001,2003,2005,2007,2009,2011,2013,2015,2017,2019],"labelExpr":"\"'\" + format(datum.value % 100, '02d')","title":null,"labelFontSize":14,"labelPadding":9.5,"tickSize":4,"domainWidth":1.5,"labelOverlap":false,"labelBound":false,"labelFlush":false,"zindex":1}},"y":{"field":"v","type":"quantitative"},
"color":{"field":"s","type":"nominal","scale":{"range":["#00B050","#00B050","#000000","#000000","#FF0000","#FF0000","#7030A0","#7030A0","#2F5597","#2F5597"]},"legend":null}}},
{"data":{"name":"d2"},"transform":[{"filter":{"field":"s","oneOf":["F2","S2","M2","L2","V2"]}}],"mark":{"type":"line","strokeWidth":2},
"encoding":{"x":{"field":"yr","type":"quantitative","axis":null},"y":{"field":"v","type":"quantitative"},"color":{"field":"s","type":"nominal","legend":null}}},
{"data":{"name":"d2"},"transform":[{"filter":{"field":"s","oneOf":["F1","F2"]}}],"mark":{"type":"point","shape":"square","size":64,"filled":false,"fill":"white","opacity":1,"strokeWidth":1.5},
"encoding":{"x":{"field":"yr","type":"quantitative","axis":null},"y":{"field":"v","type":"quantitative"},"color":{"field":"s","type":"nominal","legend":null}}},
{"data":{"name":"d2"},"transform":[{"filter":{"field":"s","oneOf":["S1","S2"]}}],"mark":{"type":"point","shape":"circle","size":100,"filled":true,"opacity":1},
"encoding":{"x":{"field":"yr","type":"quantitative","axis":null},"y":{"field":"v","type":"quantitative"},"color":{"field":"s","type":"nominal","legend":null}}},
{"data":{"name":"d2"},"transform":[{"filter":{"field":"s","oneOf":["M1","M2"]}}],"mark":{"type":"point","shape":"M-0.8,-0.8L0.8,0.8M-0.8,0.8L0.8,-0.8M0,-1V1","size":110,"filled":false,"opacity":1,"strokeWidth":1.5},
"encoding":{"x":{"field":"yr","type":"quantitative","axis":null},"y":{"field":"v","type":"quantitative"},"color":{"field":"s","type":"nominal","legend":null}}},
{"data":{"name":"d2"},"transform":[{"filter":{"field":"s","oneOf":["L1","L2"]}}],"mark":{"type":"point","shape":"triangle-up","size":115,"filled":true,"opacity":1},
"encoding":{"x":{"field":"yr","type":"quantitative","axis":null},"y":{"field":"v","type":"quantitative"},"color":{"field":"s","type":"nominal","legend":null}}},
{"data":{"name":"d2"},"transform":[{"filter":{"field":"s","oneOf":["V1","V2"]}}],"mark":{"type":"point","shape":"diamond","size":110,"filled":false,"fill":"white","opacity":1,"strokeWidth":1.5},
"encoding":{"x":{"field":"yr","type":"quantitative","axis":null},"y":{"field":"v","type":"quantitative"},"color":{"field":"s","type":"nominal","legend":null}}},
{"data":{"name":"d2"},"transform":[{"filter":"false"}],"mark":{"type":"point","opacity":1,"filled":false},
"encoding":{"x":{"field":"yr","type":"quantitative","axis":null},"y":{"field":"v","type":"quantitative"},
"stroke":{"field":"s","type":"nominal","scale":{"domain":["F1","F2","S1","S2","M1","M2","L1","L2","V1","V2"],"range":["#00B050","#00B050","#7030A0","#7030A0","#FF0000","#FF0000","#000000","#000000","#2F5597","#2F5597"]},
"legend":{"title":null,"orient":"none","legendX":1087.5,"legendY":-24.7,"strokeColor":"#808080","fillColor":"white","padding":4.5,"labelFontSize":12.5,"labelColor":"#000","labelFont":"Liberation Sans","symbolSize":49,"symbolStrokeWidth":1.8,"symbolOpacity":1,"labelOffset":55,"rowPadding":5.1,"labelLimit":300,"labelExpr":"datum.label == 'F1' ? 'Farm/Country' : datum.label == 'S1' ? 'Sm. Town' : datum.label == 'M1' ? 'Med. City' : datum.label == 'L1' ? 'Lg. City' : datum.label == 'V1' ? 'V. Lg. City' : 'few sips'","encoding":{"labels":{"dx":{"condition":{"test":"indexof(['F2','S2','M2','L2','V2'], datum.value) >= 0","value":10},"value":0}}}}},
"fill":{"field":"s","type":"nominal","scale":{"domain":["F1","F2","S1","S2","M1","M2","L1","L2","V1","V2"],"range":["#FFFFFF","#FFFFFF","#7030A0","#7030A0","transparent","transparent","#000000","#000000","#FFFFFF","#FFFFFF"]}},
"shape":{"field":"s","type":"nominal","scale":{"domain":["F1","F2","S1","S2","M1","M2","L1","L2","V1","V2"],"range":[
"M0.54,0H1.69M2.54,0H3.69M4.54,0H5.69M6.54,0H7.11M9.11,0H9.68M10.53,0H11.68M12.53,0H13.68M14.53,0H15.68M7.21,-0.9H9.01V0.9H7.21Z",
"M0.54,0H7.21M9.01,0H15.68M7.21,-0.9H9.01V0.9H7.21Z",
"M0.54,0H1.69M2.54,0H3.69M4.54,0H5.69M6.54,0H7.11M9.11,0H9.68M10.53,0H11.68M12.53,0H13.68M14.53,0H15.68M9.11,0A1,1,0,1,1,7.11,0A1,1,0,1,1,9.11,0Z",
"M0.54,0H7.11M9.11,0H15.68M9.11,0A1,1,0,1,1,7.11,0A1,1,0,1,1,9.11,0Z",
"M0.54,0H1.69M2.54,0H3.69M4.54,0H5.69M6.54,0H7.11M9.11,0H9.68M10.53,0H11.68M12.53,0H13.68M14.53,0H15.68M7.31,-0.8L8.91,0.8M7.31,0.8L8.91,-0.8M8.11,-1V1",
"M0.54,0H15.68M7.31,-0.8L8.91,0.8M7.31,0.8L8.91,-0.8M8.11,-1V1",
"M0.54,0H1.69M2.54,0H3.69M4.54,0H5.69M6.54,0H7.11M9.11,0H9.68M10.53,0H11.68M12.53,0H13.68M14.53,0H15.68M8.11,-1.05L9.16,0.8H7.06Z",
"M0.54,0H7.11M9.11,0H15.68M8.11,-1.05L9.16,0.8H7.06Z",
"M0.54,0H1.69M2.54,0H3.69M4.54,0H5.69M6.54,0H7.11M9.11,0H9.68M10.53,0H11.68M12.53,0H13.68M14.53,0H15.68M8.11,-1.05L9.16,0L8.11,1.05L7.06,0Z",
"M0.54,0H7.11M9.11,0H15.68M8.11,-1.05L9.16,0L8.11,1.05L7.06,0Z"]}}}}
]},
{"width":1518,"height":299.4,
"layer":[
{"data":{"name":"d2"},"mark":{"type":"text","align":"right","dx":13,"baseline":"middle","fontSize":14},
"encoding":{"x":{"field":"yr","type":"quantitative","scale":{"domain":[1980,2019],"range":[111.3,1433.4],"nice":false,"zero":false},"axis":null},
"y":{"field":"s","type":"nominal","scale":{"type":"point","domain":["top","hdr","F1","F2","S1","S2","M1","M2","L1","L2","V1","V2"],"range":[53.43,254.4],"padding":0},
"axis":{"orient":"left","domain":false,"ticks":false,"tickSize":0,"labelPadding":{"condition":{"test":"indexof(['F2','S2','M2','L2','V2'], datum.value) >= 0","value":-12},"value":0},"labelAlign":"left","labelBaseline":"middle","labelFontSize":14,"labelColor":"#000","labelOverlap":false,"labelBound":false,"title":null,"labelExpr":"datum.value == 'F1' ? 'Farm/Country' : datum.value == 'S1' ? 'Sm. Town' : datum.value == 'M1' ? 'Med. City' : datum.value == 'L1' ? 'Lg. City' : datum.value == 'V1' ? 'V. Lg. City' : (datum.value == 'top' || datum.value == 'hdr') ? '' : 'few sips'"}},
"text":{"field":"v","type":"quantitative","format":".1f"}}},
{"data":{"name":"c2"},"mark":{"type":"text","align":"right","dx":13,"baseline":"middle","fontSize":14},
"encoding":{"x":{"datum":2020,"type":"quantitative","axis":null},"y":{"field":"s","type":"nominal"},"text":{"field":"chg","type":"nominal"}}},
{"data":{"name":"h2"},"mark":{"type":"text","align":"center","baseline":"middle","fontSize":14},
"encoding":{"x":{"field":"yr","type":"quantitative","axis":null},"y":{"datum":"hdr","type":"nominal"},"text":{"field":"h","type":"nominal"}}},
{"data":{"name":"h2"},"mark":{"type":"rule","xOffset":-9.5,"x2Offset":9.5,"yOffset":7,"strokeWidth":1,"color":"#000"},
"encoding":{"x":{"field":"yr","type":"quantitative","axis":null},"x2":{"field":"yr"},"y":{"datum":"hdr","type":"nominal"}}},
{"data":{"name":"ch"},"mark":{"type":"text","align":"center","dx":13,"baseline":"middle","fontSize":14},
"encoding":{"x":{"datum":2020,"type":"quantitative","axis":null},"y":{"field":"r","type":"nominal"},"text":{"field":"t","type":"nominal"}}},
{"data":{"name":"ch"},"mark":{"type":"rule","xOffset":-9,"x2Offset":35,"yOffset":7,"strokeWidth":1,"color":"#000"},
"encoding":{"x":{"datum":2020,"type":"quantitative","axis":null},"x2":{"datum":2020},"y":{"field":"r","type":"nominal"}}}
]},
{"width":1052,"height":163.3,
"title":{"text":"27-30 year olds","font":"Liberation Serif","fontSize":20,"fontWeight":"bold","color":"#00B050","frame":"group","anchor":"middle","baseline":"alphabetic","offset":0,"dx":109,"dy":41.1},
"resolve":{"axis":{"x":"independent"}},
"layer":[
{"data":{"values":[{}]},"mark":{"type":"rect","filled":false,"color":"#808080","strokeWidth":2},
"encoding":{"x":{"datum":1979,"type":"quantitative","scale":{"domain":[1979,2019],"range":[73,1052],"nice":false,"zero":false},
"axis":{"orient":"bottom","values":[1980,1982,1984,1986,1988,1990,1992,1994,1996,1998,2000,2002,2004,2006,2008,2010,2012,2014,2016,2018],"labelExpr":"datum.value == 2016 ? '\"16' : \"'\" + format(datum.value % 100, '02d')","title":null,"labelFontSize":14,"labelPadding":9.5,"tickSize":4,"domainWidth":1.5,"labelOverlap":false,"labelBound":false,"labelFlush":false,"zindex":1}},
"x2":{"datum":2019},
"y":{"datum":0,"type":"quantitative","scale":{"domain":[0,15],"nice":false},
"axis":{"orient":"left","offset":-73,"values":[0,5,10,15],"title":"PERCENT","titleFontSize":15,"titleFontWeight":"normal","titlePadding":18,"labelFontSize":14,"labelPadding":10.7,"tickSize":4,"domainWidth":1.5,"zindex":1}},
"y2":{"datum":15}}},
{"data":{"name":"d3"},"transform":[{"filter":{"field":"s","oneOf":["F1","S1","M1","L1","V1"]}}],"mark":{"type":"line","strokeWidth":2,"strokeDash":[6,3]},
"encoding":{"x":{"field":"yr","type":"quantitative","axis":{"orient":"bottom","values":[1981,1983,1985,1987,1989,1991,1993,1995,1997,1999,2001,2003,2005,2007,2009,2011,2013,2015,2017,2019],"labelExpr":"\"'\" + format(datum.value % 100, '02d')","title":null,"labelFontSize":14,"labelPadding":9.5,"tickSize":4,"domainWidth":1.5,"labelOverlap":false,"labelBound":false,"labelFlush":false,"zindex":1}},"y":{"field":"v","type":"quantitative"},
"color":{"field":"s","type":"nominal","scale":{"range":["#00B050","#00B050","#000000","#000000","#FF0000","#FF0000","#7030A0","#7030A0","#2F5597","#2F5597"]},"legend":null}}},
{"data":{"name":"d3"},"transform":[{"filter":{"field":"s","oneOf":["F2","S2","M2","L2","V2"]}}],"mark":{"type":"line","strokeWidth":2},
"encoding":{"x":{"field":"yr","type":"quantitative","axis":null},"y":{"field":"v","type":"quantitative"},"color":{"field":"s","type":"nominal","legend":null}}},
{"data":{"name":"d3"},"transform":[{"filter":{"field":"s","oneOf":["F1","F2"]}}],"mark":{"type":"point","shape":"square","size":64,"filled":false,"fill":"white","opacity":1,"strokeWidth":1.5},
"encoding":{"x":{"field":"yr","type":"quantitative","axis":null},"y":{"field":"v","type":"quantitative"},"color":{"field":"s","type":"nominal","legend":null}}},
{"data":{"name":"d3"},"transform":[{"filter":{"field":"s","oneOf":["S1","S2"]}}],"mark":{"type":"point","shape":"circle","size":100,"filled":true,"opacity":1},
"encoding":{"x":{"field":"yr","type":"quantitative","axis":null},"y":{"field":"v","type":"quantitative"},"color":{"field":"s","type":"nominal","legend":null}}},
{"data":{"name":"d3"},"transform":[{"filter":{"field":"s","oneOf":["M1","M2"]}}],"mark":{"type":"point","shape":"M-0.8,-0.8L0.8,0.8M-0.8,0.8L0.8,-0.8M0,-1V1","size":110,"filled":false,"opacity":1,"strokeWidth":1.5},
"encoding":{"x":{"field":"yr","type":"quantitative","axis":null},"y":{"field":"v","type":"quantitative"},"color":{"field":"s","type":"nominal","legend":null}}},
{"data":{"name":"d3"},"transform":[{"filter":{"field":"s","oneOf":["L1","L2"]}}],"mark":{"type":"point","shape":"triangle-up","size":115,"filled":true,"opacity":1},
"encoding":{"x":{"field":"yr","type":"quantitative","axis":null},"y":{"field":"v","type":"quantitative"},"color":{"field":"s","type":"nominal","legend":null}}},
{"data":{"name":"d3"},"transform":[{"filter":{"field":"s","oneOf":["V1","V2"]}}],"mark":{"type":"point","shape":"diamond","size":110,"filled":false,"fill":"white","opacity":1,"strokeWidth":1.5},
"encoding":{"x":{"field":"yr","type":"quantitative","axis":null},"y":{"field":"v","type":"quantitative"},"color":{"field":"s","type":"nominal","legend":null}}},
{"data":{"name":"d3"},"transform":[{"filter":"false"}],"mark":{"type":"point","opacity":1,"filled":false},
"encoding":{"x":{"field":"yr","type":"quantitative","axis":null},"y":{"field":"v","type":"quantitative"},
"stroke":{"field":"s","type":"nominal","scale":{"domain":["F1","F2","S1","S2","M1","M2","L1","L2","V1","V2"],"range":["#00B050","#00B050","#7030A0","#7030A0","#FF0000","#FF0000","#000000","#000000","#2F5597","#2F5597"]},
"legend":{"title":null,"orient":"none","legendX":1076.7,"legendY":-27,"strokeColor":"#808080","fillColor":"white","padding":4.5,"labelFontSize":12.5,"labelColor":"#000","labelFont":"Liberation Sans","symbolSize":49,"symbolStrokeWidth":1.8,"symbolOpacity":1,"labelOffset":55,"rowPadding":5.1,"labelLimit":300,"labelExpr":"datum.label == 'F1' ? 'Farm/Country' : datum.label == 'S1' ? 'Sm. Town' : datum.label == 'M1' ? 'Med. City' : datum.label == 'L1' ? 'Lg. City' : datum.label == 'V1' ? 'V. Lg. City' : 'few sips'","encoding":{"labels":{"dx":{"condition":{"test":"indexof(['F2','S2','M2','L2','V2'], datum.value) >= 0","value":10},"value":0}}}}},
"fill":{"field":"s","type":"nominal","scale":{"domain":["F1","F2","S1","S2","M1","M2","L1","L2","V1","V2"],"range":["#FFFFFF","#FFFFFF","#7030A0","#7030A0","transparent","transparent","#000000","#000000","#FFFFFF","#FFFFFF"]}},
"shape":{"field":"s","type":"nominal","scale":{"domain":["F1","F2","S1","S2","M1","M2","L1","L2","V1","V2"],"range":[
"M0.54,0H1.69M2.54,0H3.69M4.54,0H5.69M6.54,0H7.11M9.11,0H9.68M10.53,0H11.68M12.53,0H13.68M14.53,0H15.68M7.21,-0.9H9.01V0.9H7.21Z",
"M0.54,0H7.21M9.01,0H15.68M7.21,-0.9H9.01V0.9H7.21Z",
"M0.54,0H1.69M2.54,0H3.69M4.54,0H5.69M6.54,0H7.11M9.11,0H9.68M10.53,0H11.68M12.53,0H13.68M14.53,0H15.68M9.11,0A1,1,0,1,1,7.11,0A1,1,0,1,1,9.11,0Z",
"M0.54,0H7.11M9.11,0H15.68M9.11,0A1,1,0,1,1,7.11,0A1,1,0,1,1,9.11,0Z",
"M0.54,0H1.69M2.54,0H3.69M4.54,0H5.69M6.54,0H7.11M9.11,0H9.68M10.53,0H11.68M12.53,0H13.68M14.53,0H15.68M7.31,-0.8L8.91,0.8M7.31,0.8L8.91,-0.8M8.11,-1V1",
"M0.54,0H15.68M7.31,-0.8L8.91,0.8M7.31,0.8L8.91,-0.8M8.11,-1V1",
"M0.54,0H1.69M2.54,0H3.69M4.54,0H5.69M6.54,0H7.11M9.11,0H9.68M10.53,0H11.68M12.53,0H13.68M14.53,0H15.68M8.11,-1.05L9.16,0.8H7.06Z",
"M0.54,0H7.11M9.11,0H15.68M8.11,-1.05L9.16,0.8H7.06Z",
"M0.54,0H1.69M2.54,0H3.69M4.54,0H5.69M6.54,0H7.11M9.11,0H9.68M10.53,0H11.68M12.53,0H13.68M14.53,0H15.68M8.11,-1.05L9.16,0L8.11,1.05L7.06,0Z",
"M0.54,0H7.11M9.11,0H15.68M8.11,-1.05L9.16,0L8.11,1.05L7.06,0Z"]}}}}
]},
{"width":1518,"height":267,
"layer":[
{"data":{"name":"d3"},"mark":{"type":"text","align":"right","dx":13,"baseline":"middle","fontSize":14},
"encoding":{"x":{"field":"yr","type":"quantitative","scale":{"domain":[1980,2019],"range":[111.3,1433.4],"nice":false,"zero":false},"axis":null},
"y":{"field":"s","type":"nominal","scale":{"type":"point","domain":["top","hdr","F1","F2","S1","S2","M1","M2","L1","L2","V1","V2"],"range":[54.8,255],"padding":0},
"axis":{"orient":"left","domain":false,"ticks":false,"tickSize":0,"labelPadding":{"condition":{"test":"indexof(['F2','S2','M2','L2','V2'], datum.value) >= 0","value":-12},"value":0},"labelAlign":"left","labelBaseline":"middle","labelFontSize":14,"labelColor":"#000","labelOverlap":false,"labelBound":false,"title":null,"labelExpr":"datum.value == 'F1' ? 'Farm/Country' : datum.value == 'S1' ? 'Sm. Town' : datum.value == 'M1' ? 'Med. City' : datum.value == 'L1' ? 'Lg. City' : datum.value == 'V1' ? 'V. Lg. City' : (datum.value == 'top' || datum.value == 'hdr') ? '' : 'few sips'"}},
"text":{"field":"v","type":"quantitative","format":".1f"}}},
{"data":{"name":"c3"},"mark":{"type":"text","align":"right","dx":13,"baseline":"middle","fontSize":14},
"encoding":{"x":{"datum":2020,"type":"quantitative","axis":null},"y":{"field":"s","type":"nominal"},"text":{"field":"chg","type":"nominal"}}},
{"data":{"name":"h3"},"mark":{"type":"text","align":"center","baseline":"middle","fontSize":14},
"encoding":{"x":{"field":"yr","type":"quantitative","axis":null},"y":{"datum":"hdr","type":"nominal"},"text":{"field":"h","type":"nominal"}}},
{"data":{"name":"h3"},"mark":{"type":"rule","xOffset":-9.5,"x2Offset":9.5,"yOffset":7,"strokeWidth":1,"color":"#000"},
"encoding":{"x":{"field":"yr","type":"quantitative","axis":null},"x2":{"field":"yr"},"y":{"datum":"hdr","type":"nominal"}}},
{"data":{"name":"ch"},"mark":{"type":"text","align":"center","dx":13,"baseline":"middle","fontSize":14},
"encoding":{"x":{"datum":2020,"type":"quantitative","axis":null},"y":{"field":"r","type":"nominal"},"text":{"field":"t","type":"nominal"}}},
{"data":{"name":"ch"},"mark":{"type":"rule","xOffset":-9,"x2Offset":35,"yOffset":7,"strokeWidth":1,"color":"#000"},
"encoding":{"x":{"datum":2020,"type":"quantitative","axis":null},"x2":{"datum":2020},"y":{"field":"r","type":"nominal"}}}
]}
]
}
